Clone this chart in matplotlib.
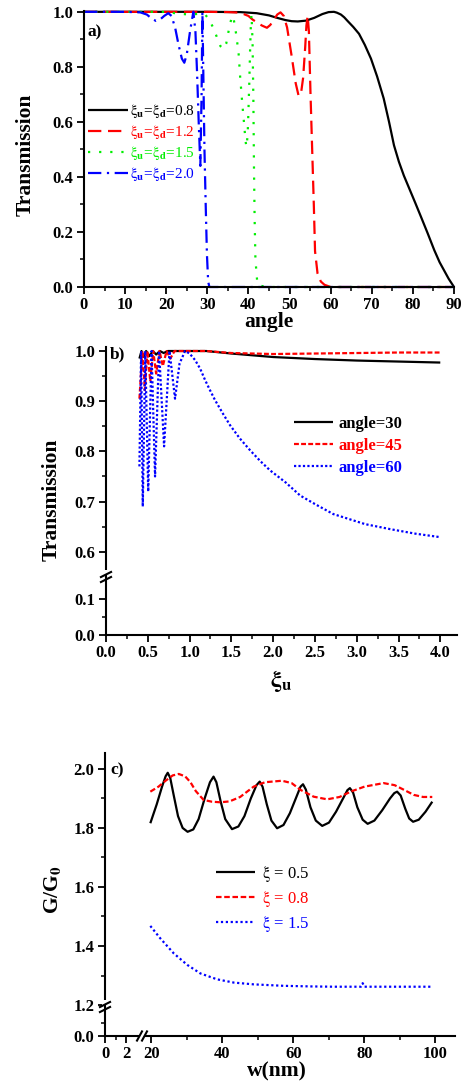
import numpy as np
import matplotlib
matplotlib.use('Agg')
import matplotlib.pyplot as plt
from matplotlib.lines import Line2D
from matplotlib.patches import Rectangle

plt.rcParams['font.family'] = ['Liberation Serif', 'DejaVu Serif']
plt.rcParams['mathtext.fontset'] = 'stix'
plt.rcParams['axes.linewidth'] = 1.5
plt.rcParams['lines.solid_capstyle'] = 'butt'

# ---------------- data: panel a ----------------
ang_k = [0, 10, 20, 30, 38, 42, 45, 47, 49, 50.5, 52, 54, 56, 58, 59.5, 60.8, 61.5, 62.5, 63.3,
         64.1, 65.5, 66.9, 68.3, 69.8, 71.3, 72.9, 74.2, 75.4, 76.6, 77.8, 79.2, 80.6, 82.0,
         83.6, 85.2, 86.5, 87.6, 88.7, 89.7, 90]
T_k = [1.0, 1.0, 1.0, 1.0, 0.999, 0.995, 0.987, 0.978, 0.97, 0.966, 0.965, 0.968, 0.978, 0.992,
       0.999, 1.0, 0.997, 0.99, 0.98, 0.967, 0.945, 0.92, 0.88, 0.83, 0.765, 0.685, 0.6, 0.515,
       0.455, 0.405, 0.355, 0.305, 0.254, 0.195, 0.134, 0.09, 0.06, 0.03, 0.007, 0.0]

ang_r = [0, 10, 20, 30, 35, 38, 40, 41, 42.2, 43.3, 44.5, 45.3, 46, 47, 47.8, 48.6, 49.4, 50.5,
         51.5, 52.2, 52.8, 53.3, 53.8, 54.1, 54.4, 54.7, 55.1, 55.5, 55.9, 56.2, 56.8, 57.6,
         58.5, 60, 70, 80, 90]
T_r = [1.0, 1.0, 1.0, 1.0, 0.999, 0.997, 0.985, 0.972, 0.96, 0.95, 0.942, 0.952, 0.967, 0.99,
       0.998, 0.985, 0.943, 0.84, 0.74, 0.695, 0.705, 0.76, 0.87, 0.95, 0.985, 0.93, 0.70, 0.5,
       0.3, 0.13, 0.05, 0.02, 0.008, 0.0, 0.0, 0.0, 0.0]

ang_g = [0, 10, 20, 23, 26, 28, 29.5, 30.5, 31.5, 32.4, 33.2, 33.9, 34.6, 35.3, 36.0, 36.4, 37.0,
         37.6, 38.0, 38.5, 38.9, 39.3, 39.5, 39.8, 40.0, 40.2, 40.4, 40.6, 40.75, 41.0, 41.2,
         41.35, 41.5, 41.7, 42.1, 42.5, 45, 60, 90]
T_g = [1.0, 1.0, 1.0, 0.993, 0.99, 0.993, 0.99, 0.97, 0.94, 0.905, 0.875, 0.865, 0.885, 0.94,
       0.985, 0.975, 0.92, 0.85, 0.76, 0.667, 0.6, 0.53, 0.51, 0.55, 0.64, 0.74, 0.86, 0.96,
       0.99, 0.89, 0.68, 0.43, 0.25, 0.1, 0.025, 0.005, 0.0, 0.0, 0.0]

ang_b = [0, 10, 13.7, 15.3, 16.5, 17.5, 18.5, 19.5, 20.5, 21.3, 22.2, 23.0, 23.8, 24.4, 25.0,
         25.8, 26.6, 27.1, 27.5, 27.9, 28.3, 28.6, 28.8, 29.0, 29.3, 29.6, 29.9, 30.2, 30.5,
         40, 60, 90]
T_b = [1.0, 1.0, 0.998, 0.99, 0.975, 0.967, 0.972, 0.985, 0.995, 0.985, 0.94, 0.88, 0.83, 0.815,
       0.845, 0.93, 1.0, 0.93, 0.78, 0.6, 0.44, 0.7, 1.0, 0.8, 0.5, 0.3, 0.12, 0.02, 0.0,
       0.0, 0.0, 0.0]

labels_a = [r'$\mathrm{\xi}_\mathbf{u}$=$\mathrm{\xi}_\mathbf{d}$=0.8',
            r'$\mathrm{\xi}_\mathbf{u}$=$\mathrm{\xi}_\mathbf{d}$=1.2',
            r'$\mathrm{\xi}_\mathbf{u}$=$\mathrm{\xi}_\mathbf{d}$=1.5',
            r'$\mathrm{\xi}_\mathbf{u}$=$\mathrm{\xi}_\mathbf{d}$=2.0']

# ---------------- data: panel b ----------------
xi_30 = [0.40, 0.425, 0.45, 0.48, 0.52, 0.56, 0.60, 0.645, 0.69, 0.74, 1.0, 1.2, 1.5, 2.0, 2.5,
         3.0, 3.5, 4.0]
T_30 = [0.985, 1.0, 0.988, 1.0, 0.99, 1.0, 0.993, 1.0, 0.996, 1.0, 1.0, 1.0, 0.995, 0.988, 0.984,
        0.981, 0.979, 0.977]

xi_45 = [0.40, 0.435, 0.465, 0.495, 0.53, 0.565, 0.60, 0.64, 0.68, 0.725, 0.77, 0.82, 1.0, 1.2,
         1.5, 2.0, 2.5, 3.0, 3.5, 4.0]
T_45 = [0.905, 1.0, 0.922, 1.0, 0.94, 1.0, 0.955, 1.0, 0.97, 1.0, 0.985, 1.0, 1.0, 1.0, 0.996,
        0.994, 0.995, 0.996, 0.997, 0.997]

xi_60 = [0.40, 0.42, 0.44, 0.47, 0.505, 0.545, 0.587, 0.635, 0.695, 0.76, 0.826, 0.88, 0.946, 1.0,
         1.066, 1.126, 1.186, 1.25, 1.305, 1.4, 1.485, 1.6, 1.725, 1.85, 1.964, 2.15, 2.323,
         2.5, 2.72, 3.1, 3.4, 3.7, 4.0]
T_60 = [0.77, 1.0, 0.69, 1.0, 0.72, 1.0, 0.75, 1.0, 0.81, 1.0, 0.905, 0.975, 1.0, 0.995, 0.982,
        0.965, 0.942, 0.92, 0.902, 0.875, 0.852, 0.826, 0.802, 0.78, 0.762, 0.738, 0.712,
        0.695, 0.675, 0.655, 0.645, 0.636, 0.629]

labels_b = ['angle=30', 'angle=45', 'angle=60']

# ---------------- data: panel c ----------------
w_05 = [19.7, 21.5, 23.0, 24.0, 24.6, 25.3, 26.3, 27.5, 28.8, 30.2, 31.8, 33.3, 35.0, 36.5, 37.5,
        38.3, 39.5, 40.8, 42.7, 44.5, 46.2, 48.0, 49.6, 50.5, 51.3, 52.5, 53.8, 55.4, 57.2,
        59.0, 61.0, 62.0, 62.7, 63.5, 64.8, 66.3, 68.1, 70.0, 72.0, 74.2, 75.2, 75.9, 76.8,
        78.0, 79.5, 80.9, 82.8, 85.0, 87.2, 88.4, 89.2, 90.2, 91.5, 92.6, 93.7, 95.3, 97.2,
        99.1]
G_05 = [1.816, 1.88, 1.94, 1.975, 1.987, 1.97, 1.91, 1.84, 1.80, 1.787, 1.795, 1.83, 1.90, 1.955,
        1.974, 1.955, 1.89, 1.83, 1.796, 1.805, 1.84, 1.90, 1.945, 1.957, 1.94, 1.88, 1.825,
        1.799, 1.81, 1.85, 1.91, 1.94, 1.948, 1.93, 1.87, 1.825, 1.807, 1.818, 1.855, 1.905,
        1.928, 1.935, 1.92, 1.87, 1.828, 1.814, 1.825, 1.86, 1.90, 1.918, 1.923, 1.91, 1.865,
        1.832, 1.821, 1.828, 1.855, 1.889]

w_08 = [19.7, 22, 24, 26, 27.7, 29.5, 31, 32.5, 34.7, 37, 39.4, 42, 45, 48.8, 52, 56.8, 59.5, 62,
        65.7, 69.5, 73, 76.1, 80, 85.4, 88.5, 91, 93.9, 96.5, 99.1]
G_08 = [1.923, 1.94, 1.96, 1.978, 1.983, 1.975, 1.955, 1.925, 1.895, 1.889, 1.887, 1.89, 1.905,
        1.94, 1.955, 1.96, 1.952, 1.929, 1.906, 1.897, 1.905, 1.923, 1.94, 1.952, 1.945, 1.93,
        1.912, 1.905, 1.905]

w_15 = [19.7, 22.5, 26.3, 30.1, 33.8, 38.5, 43.2, 48.8, 57.3, 65, 71.4, 79.0, 79.5, 80.0, 90.1,
        98.6]
G_15 = [1.468, 1.426, 1.375, 1.336, 1.307, 1.287, 1.276, 1.270, 1.265, 1.263, 1.262, 1.262,
        1.274, 1.262, 1.262, 1.262]

labels_c = [r'$\mathrm{\xi}$ = 0.5', r'$\mathrm{\xi}$ = 0.8', r'$\mathrm{\xi}$ = 1.5']

# ---------------- figure ----------------
W, H = 472, 1087
fig = plt.figure(figsize=(W / 100, H / 100), dpi=100)


def px_axes(left, top, right, bottom):
    return fig.add_axes([left / W, 1 - bottom / H, (right - left) / W, (bottom - top) / H])


def piecewise(dp, pp):
    dp = np.asarray(dp, float)
    pp = np.asarray(pp, float)
    s0 = (pp[1] - pp[0]) / (dp[1] - dp[0])
    s1 = (pp[-1] - pp[-2]) / (dp[-1] - dp[-2])
    D = np.r_[dp[0] - 1e4, dp, dp[-1] + 1e4]
    P = np.r_[pp[0] - 1e4 * s0, pp, pp[-1] + 1e4 * s1]
    return (lambda v: np.interp(v, D, P)), (lambda v: np.interp(v, P, D))


def style(ax):
    for s in ['top', 'right']:
        ax.spines[s].set_visible(False)
    ax.tick_params(which='major', direction='out', length=5, width=1.3, pad=2.5)
    ax.tick_params(which='minor', direction='out', length=3, width=1.1)
    ax.patch.set_alpha(0)


def to_fig(x, y):
    return x / W, 1 - y / H


def ybreak(xc, yc):
    x0, y0 = to_fig(xc - 3, yc - 2.5)
    fig.add_artist(Rectangle((x0, y0), 6 / W, 5 / H, transform=fig.transFigure,
                             facecolor='white', edgecolor='none', zorder=5))
    for dy in (-2.5, 2.5):
        xa, ya = to_fig(xc - 6, yc + dy + 3)
        xb, yb = to_fig(xc + 6, yc + dy - 3)
        fig.add_artist(Line2D([xa, xb], [ya, yb], transform=fig.transFigure,
                              color='black', lw=1.5, zorder=6))


def xbreak(xc, yc):
    x0, y0 = to_fig(xc - 2.5, yc + 3)
    fig.add_artist(Rectangle((x0, y0), 5 / W, 6 / H, transform=fig.transFigure,
                             facecolor='white', edgecolor='none', zorder=5))
    for dx in (-2.5, 2.5):
        xa, ya = to_fig(xc + dx - 3, yc + 5.5)
        xb, yb = to_fig(xc + dx + 3, yc - 5.5)
        fig.add_artist(Line2D([xa, xb], [ya, yb], transform=fig.transFigure,
                              color='black', lw=1.5, zorder=6))


TICK = dict(fontsize=12, fontweight='bold')
LAB = dict(fontsize=15.5, fontweight='bold')

# ---------------- panel a ----------------
axA = px_axes(84, 11, 454, 287)
style(axA)
lw = 1.6
axA.plot(ang_k, T_k, color='black', lw=lw, label=labels_a[0], clip_on=False)
axA.plot(ang_r, T_r, color='#ff0000', lw=lw, dashes=(6, 3), label=labels_a[1], clip_on=False)
axA.plot(ang_g, T_g, color='#00ee00', lw=lw, dashes=(1, 4), label=labels_a[2], clip_on=False)
axA.plot(ang_b, T_b, color='#0000ff', lw=lw, dashes=(6, 2.5, 1, 2.5), label=labels_a[3],
         clip_on=False)
axA.set_xlim(0, 90)
axA.set_ylim(0, 1.003)
axA.set_xticks(np.arange(0, 91, 10), [str(v) for v in range(0, 91, 10)], **TICK)
axA.set_xticks(np.arange(5, 90, 10), minor=True)
axA.set_yticks([0, 0.2, 0.4, 0.6, 0.8, 1.0], ['0.0', '0.2', '0.4', '0.6', '0.8', '1.0'], **TICK)
axA.set_yticks([0.1, 0.3, 0.5, 0.7, 0.9], minor=True)
axA.text((95 - 84) / 370, (287 - 32) / 276, 'a)', transform=axA.transAxes, ha='center',
         va='center', fontsize=12.5, fontweight='bold')
axA.text(-0.157, 0.478, 'Transmission', transform=axA.transAxes, rotation=90, ha='center',
         va='center', **LAB)
axA.text(0.5, -0.125, 'angle', transform=axA.transAxes, ha='center', va='center', **LAB)
axA.legend(loc='upper left', bbox_to_anchor=((88 - 84) / 370, (287 - 102) / 276),
           frameon=False, fontsize=11, handlelength=2.6, handletextpad=0.15,
           labelspacing=0.2, borderpad=0, borderaxespad=0, labelcolor='linecolor')

# ---------------- panel b ----------------
axB = px_axes(106, 347, 457, 635)
style(axB)
fb, ib = piecewise([0, 0.16, 0.55, 1.008], [0, 57.6, 58.0, 58.0 + 0.458 * 500])
axB.set_yscale('function', functions=(fb, ib))
axB.plot(xi_30, T_30, color='black', lw=1.6, label=labels_b[0])
axB.plot(xi_45, T_45, color='#ff0000', lw=1.6, dashes=(2.2, 1.0), label=labels_b[1])
axB.plot(xi_60, T_60, color='#0000ff', lw=1.6, dashes=(1, 1), label=labels_b[2])
axB.set_xlim(0, 4.2)
axB.set_ylim(0, 1.008)
xt = np.arange(0, 4.01, 0.5)
axB.set_xticks(xt, ['%.1f' % v for v in xt], **TICK)
axB.set_xticks(np.arange(0.25, 4.1, 0.5), minor=True)
axB.set_yticks([0, 0.1, 0.6, 0.7, 0.8, 0.9, 1.0],
               ['0.0', '0.1', '0.6', '0.7', '0.8', '0.9', '1.0'], **TICK)
axB.set_yticks([0.05, 0.65, 0.75, 0.85, 0.95], minor=True)
axB.text((118 - 106) / 351, (635 - 354) / 288, 'b)', transform=axB.transAxes, ha='center',
         va='center', fontsize=12.5, fontweight='bold')
axB.text(-0.154, 0.469, 'Transmission', transform=axB.transAxes, rotation=90, ha='center',
         va='center', **LAB)
axB.text(0.5, -0.16, r'$\mathbf{\xi}_\mathbf{u}$', transform=axB.transAxes, ha='center',
         va='center', fontsize=17)
axB.legend(loc='upper left', bbox_to_anchor=((294 - 106) / 351, (635 - 416) / 288),
           frameon=False, prop=dict(size=12, weight='bold'), handlelength=2.35,
           handletextpad=0.3, labelspacing=0.35, borderpad=0, borderaxespad=0,
           labelcolor='linecolor')
ybreak(106, 577)

# ---------------- panel c ----------------
axC = px_axes(105, 753, 455, 1036)
style(axC)
fcy, icy = piecewise([0, 0.22, 1.195, 2.054], [0, 28.6, 29.5, 29.5 + 0.859 * 295])
fcx, icx = piecewise([0, 3.5, 17.5, 105.5], [0, 36.75, 37.5, 37.5 + 88 * 3.55])
axC.set_yscale('function', functions=(fcy, icy))
axC.set_xscale('function', functions=(fcx, icx))
axC.plot(w_05, G_05, color='black', lw=1.6, label=labels_c[0])
axC.plot(w_08, G_08, color='#ff0000', lw=1.6, dashes=(2.5, 1.2), label=labels_c[1])
axC.plot(w_15, G_15, color='#0000ff', lw=1.6, dashes=(1, 1.2), label=labels_c[2])
axC.set_xlim(0, 105.5)
axC.set_ylim(0, 2.054)
axC.set_xticks([0, 2, 20, 40, 60, 80, 100], ['0', '2', '20', '40', '60', '80', '100'], **TICK)
axC.set_xticks([1, 30, 50, 70, 90], minor=True)
axC.set_yticks([0, 1.2, 1.4, 1.6, 1.8, 2.0], ['0.0', '1.2', '1.4', '1.6', '1.8', '2.0'], **TICK)
axC.set_yticks([0.1, 1.3, 1.5, 1.7, 1.9], minor=True)
axC.text((117 - 105) / 350, (1036 - 770) / 283, 'c)', transform=axC.transAxes, ha='center',
         va='center', fontsize=12.5, fontweight='bold')
axC.text(-0.149, 0.516, r'G/G$_\mathbf{0}$', transform=axC.transAxes, rotation=90,
         ha='center', va='center', **LAB)
axC.text(0.49, -0.127, 'w(nm)', transform=axC.transAxes, ha='center', va='center', **LAB)
axC.legend(loc='upper left', bbox_to_anchor=((216 - 105) / 350, (1036 - 864) / 283),
           frameon=False, fontsize=12, handlelength=2.35, handletextpad=0.42,
           labelspacing=0.3, borderpad=0, borderaxespad=0, labelcolor='linecolor')
ybreak(105, 1007)
xbreak(142, 1036)

fig.savefig('out.png', dpi=100)
